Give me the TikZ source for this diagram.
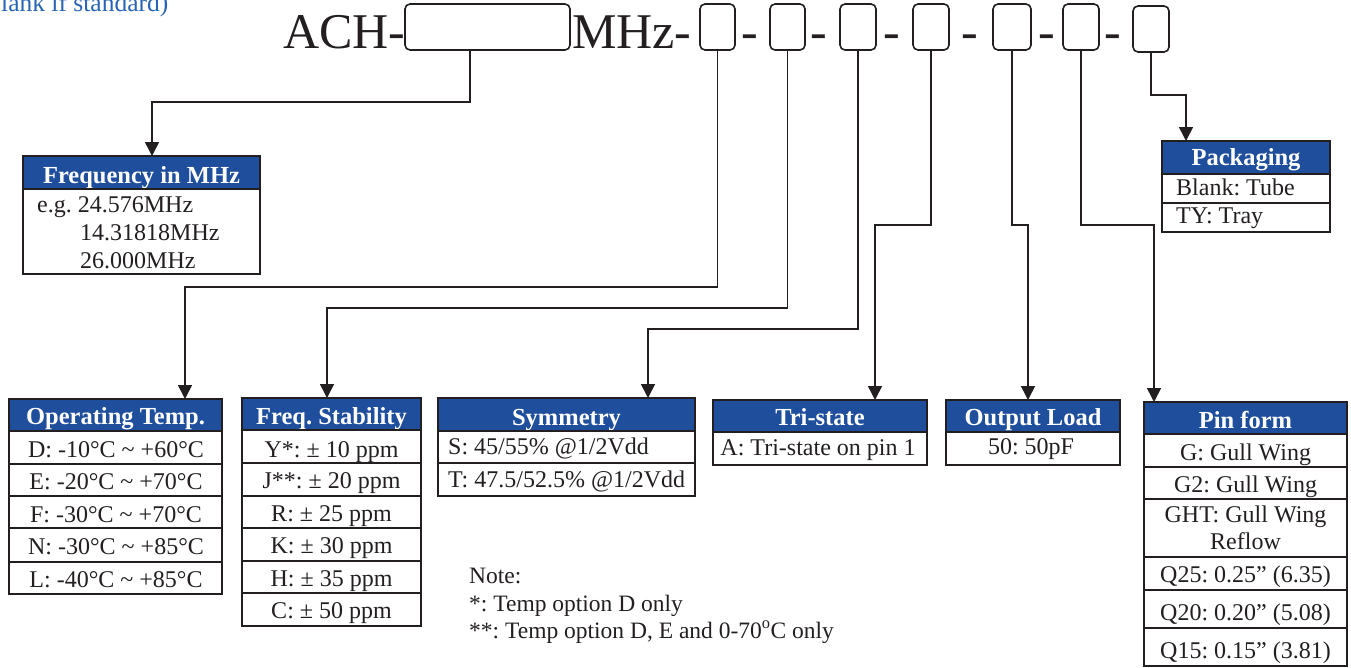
\documentclass[tikz,border=0pt]{standalone}
\usepackage{fontspec}
\setmainfont{Liberation Serif}
\usetikzlibrary{arrows.meta}
\definecolor{hblue}{RGB}{30,78,156}
\definecolor{tblue}{RGB}{40,100,180}
\definecolor{ink}{RGB}{35,31,32}
\newcommand\mkhdr[7]{%
  \node[hdr, minimum width={#4-#2}, minimum height={#5-#3}] (#1) at (#2,#3) {};
  \node[htxt] (#1t) at ({(#2+#4)/2},#6) {#7};}
\newcommand\mkrow[5]{%
  \node[cell, minimum width={#4-#2}, minimum height={#5-#3}] (#1) at (#2,#3) {};}
\frenchspacing
\begin{document}
\frenchspacing
\begin{tikzpicture}[x=1pt,y=-1pt,
  big/.style={font=\fontsize{50}{55}\selectfont, text=ink, inner sep=0, anchor=base west},
  dsh/.style={font=\fontsize{50}{55}\selectfont, text=ink, inner sep=0, anchor=base},
  slot/.style={draw=ink, line width=1.6pt, rounded corners=5pt, inner sep=0, outer sep=0, anchor=north west},
  arr/.style={draw=ink, line width=1.6pt, -{Triangle[width=14pt,length=14pt]}},
  hdr/.style={fill=hblue, draw=ink, line width=1.8pt, anchor=north west, inner sep=0, outer sep=0},
  cell/.style={draw=ink, line width=1.8pt, anchor=north west, inner sep=0, outer sep=0},
  htxt/.style={font=\bfseries\fontsize{24.5}{26}\selectfont, text=white, anchor=base, inner sep=0},
  rtxt/.style={font=\fontsize{24}{26}\selectfont, text=ink, anchor=base, inner sep=0},
  ltxt/.style={rtxt, anchor=base west},
  ntxt/.style={font=\fontsize{23.5}{26}\selectfont, text=ink, anchor=base west, inner sep=0},
]
\useasboundingbox (0,0) rectangle (1351,667);

% top-left partial caption (cut by the top edge, as in the reference)
\node[font=\fontsize{25.5}{28}\selectfont, text=tblue, anchor=base west, inner sep=0] (cap) at (1,11) {lank if standard)};

% part number line
\node[big] (ach) at (283,48) {ACH-};
\node[slot, minimum width=165pt, minimum height=46pt] (b1) at (405,4) {};
\node[big] (mhz) at (572,48) {MHz-};
\node[slot, minimum width=35pt, minimum height=46pt] (b2) at (700,4) {};
\node[dsh] (d2) at (750,48) {-};
\node[slot, minimum width=35pt, minimum height=46pt] (b3) at (770,4) {};
\node[dsh] (d3) at (819,48) {-};
\node[slot, minimum width=36pt, minimum height=46pt] (b4) at (840,4) {};
\node[dsh] (d4) at (892,48) {-};
\node[slot, minimum width=36pt, minimum height=46pt] (b5) at (913,4) {};
\node[dsh] (d5) at (970,48) {-};
\node[slot, minimum width=38pt, minimum height=46pt] (b6) at (993,4) {};
\node[dsh] (d6) at (1047,48) {-};
\node[slot, minimum width=36pt, minimum height=46pt] (b7) at (1063,4) {};
\node[dsh] (d7) at (1113,48) {-};
\node[slot, minimum width=36pt, minimum height=46pt] (b8) at (1133,6) {};

% Frequency in MHz
\mkhdr{fq}{23}{156}{260}{189}{183}{Frequency in MHz}
\mkrow{fqb}{23}{189}{260}{274}
\node[ltxt] (fq1) at (37,212) {e.g. 24.576MHz};
\node[ltxt] (fq2) at (80,240) {14.31818MHz};
\node[ltxt] (fq3) at (80,268) {26.000MHz};

% Packaging
\mkhdr{pk}{1162}{141}{1330}{174}{165}{Packaging}
\mkrow{pkr1}{1162}{174}{1330}{203}
\mkrow{pkr2}{1162}{203}{1330}{232}
\node[ltxt] (pk1) at (1176,195) {Blank: Tube};
\node[ltxt] (pk2) at (1176,223) {TY: Tray};

% Operating Temp.
\mkhdr{ot}{9}{399}{222}{431}{424}{Operating Temp.}
\mkrow{otr1}{9}{431}{222}{464}
\mkrow{otr2}{9}{464}{222}{496}
\mkrow{otr3}{9}{496}{222}{528}
\mkrow{otr4}{9}{528}{222}{562}
\mkrow{otr5}{9}{562}{222}{594}
\node[rtxt] (ot1) at (116,457) {D: -10°C \textasciitilde{} +60°C};
\node[rtxt] (ot2) at (116,489) {E: -20°C \textasciitilde{} +70°C};
\node[rtxt] (ot3) at (116,522) {F: -30°C \textasciitilde{} +70°C};
\node[rtxt] (ot4) at (116,554) {N: -30°C \textasciitilde{} +85°C};
\node[rtxt] (ot5) at (116,587) {L: -40°C \textasciitilde{} +85°C};

% Freq. Stability
\mkhdr{fs}{242}{398}{421}{430}{424}{Freq. Stability}
\mkrow{fsr1}{242}{430}{421}{463}
\mkrow{fsr2}{242}{463}{421}{496}
\mkrow{fsr3}{242}{496}{421}{528}
\mkrow{fsr4}{242}{528}{421}{561}
\mkrow{fsr5}{242}{561}{421}{593}
\mkrow{fsr6}{242}{593}{421}{626}
\node[rtxt] (fs1) at (331.5,457) {Y*: ± 10 ppm};
\node[rtxt] (fs2) at (331.5,488) {J**: ± 20 ppm};
\node[rtxt] (fs3) at (331.5,521) {R: ± 25 ppm};
\node[rtxt] (fs4) at (331.5,553) {K: ± 30 ppm};
\node[rtxt] (fs5) at (331.5,586) {H: ± 35 ppm};
\node[rtxt] (fs6) at (331.5,618) {C: ± 50 ppm};

% Symmetry
\mkhdr{sy}{438}{398}{695}{431}{425}{Symmetry}
\mkrow{syr1}{438}{431}{695}{463}
\mkrow{syr2}{438}{463}{695}{496}
\node[ltxt] (sy1) at (448,454) {S: 45/55\% @1/2Vdd};
\node[ltxt] (sy2) at (448,487) {T: 47.5/52.5\% @1/2Vdd};

% Tri-state
\mkhdr{ts}{713}{400}{927}{432}{425}{Tri-state}
\mkrow{tsr1}{713}{432}{927}{465}
\node[rtxt] (ts1) at (818,455) {A: Tri-state on pin 1};

% Output Load
\mkhdr{ol}{946}{400}{1120}{432}{425}{Output Load}
\mkrow{olr1}{946}{432}{1120}{465}
\node[rtxt] (ol1) at (1031,454) {50: 50pF};

% Pin form
\mkhdr{pf}{1144}{402}{1347}{434}{428}{Pin form}
\mkrow{pfr1}{1144}{434}{1347}{467}
\mkrow{pfr2}{1144}{467}{1347}{499}
\mkrow{pfr3}{1144}{499}{1347}{557}
\mkrow{pfr4}{1144}{557}{1347}{590}
\mkrow{pfr5}{1144}{590}{1347}{628}
\mkrow{pfr6}{1144}{628}{1347}{666}
\node[rtxt] (pf1) at (1245.5,460) {G: Gull Wing};
\node[rtxt] (pf2) at (1245.5,492) {G2: Gull Wing};
\node[rtxt] (pf3) at (1245.5,522) {GHT: Gull Wing};
\node[rtxt] (pf3b) at (1245.5,549) {Reflow};
\node[rtxt] (pf4) at (1245.5,582) {Q25: 0.25” (6.35)};
\node[rtxt] (pf5) at (1245.5,620) {Q20: 0.20” (5.08)};
\node[rtxt] (pf6) at (1245.5,658) {Q15: 0.15” (3.81)};

% Note
\node[ntxt] (n1) at (469,583) {Note:};
\node[ntxt] (n2) at (469,611) {*: Temp option D only};
\node[ntxt] (n3) at (469,638) {**: Temp option D, E and 0-70\textsuperscript{o}C only};

% connector bends
\coordinate (k1) at (152,102);
\coordinate (k2) at (185,287);
\coordinate (k3) at (327,308);
\coordinate (k4) at (648,329);
\coordinate (k5) at (875,225);
\coordinate (k6) at (1028,225);
\coordinate (k7) at (1154,225);
\coordinate (k8) at (1186,95);
\coordinate (s1) at ([xshift=65pt]b1.south west);

\draw[arr] (s1) |- (k1) -- (fq.north -| k1);
\draw[arr] (b2.south) |- (k2) -- (ot.north -| k2);
\draw[arr] (b3.south) |- (k3) -- (fs.north -| k3);
\draw[arr] (b4.south) |- (k4) -- (sy.north -| k4);
\draw[arr] (b5.south) |- (k5) -- (ts.north -| k5);
\draw[arr] (b6.south) |- (k6) -- (ol.north -| k6);
\draw[arr] (b7.south) |- (k7) -- (pf.north -| k7);
\draw[arr] (b8.south) |- (k8) -- (pk.north -| k8);
\end{tikzpicture}
\end{document}
